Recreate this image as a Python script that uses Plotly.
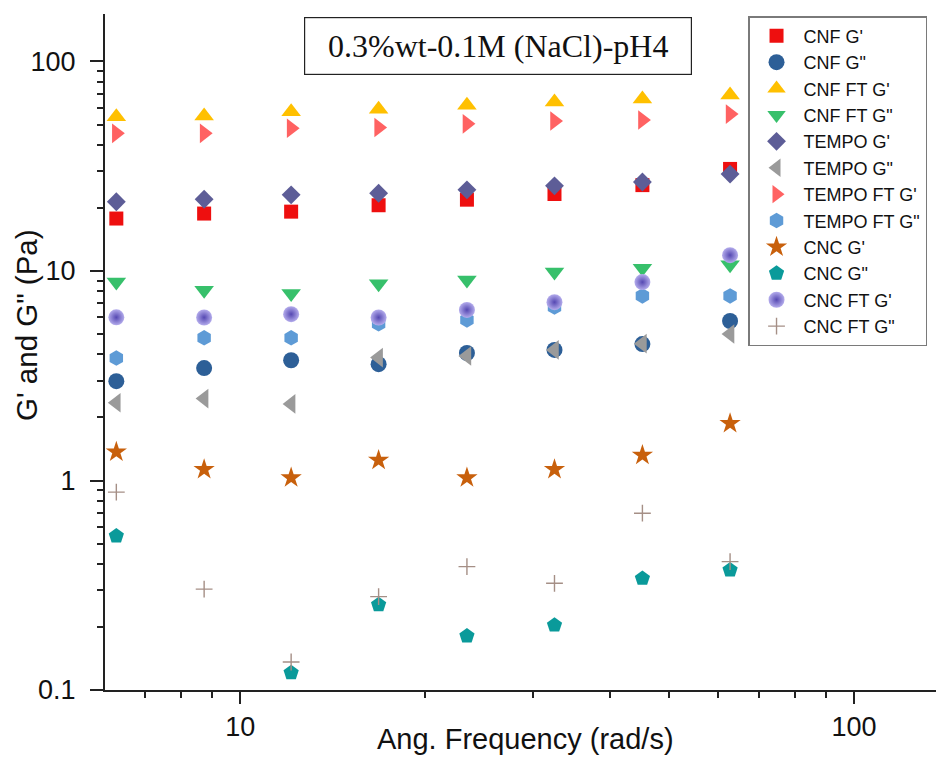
import plotly.graph_objects as go

# Angular frequency sweep (rad/s)
freq = [6.28, 8.73, 12.1, 16.8, 23.4, 32.5, 45.2, 62.8]

# Moduli (Pa) per sample
cnf_g1 = [17.8, 18.8, 19.2, 20.6, 21.9, 23.3, 25.7, 30.7]
cnf_g2 = [2.98, 3.44, 3.75, 3.59, 4.06, 4.2, 4.48, 5.77]
cnf_ft_g1 = [54.5, 54.9, 57.5, 59.1, 61.9, 64.1, 66.2, 69.2]
cnf_ft_g2 = [8.85, 8.1, 7.8, 8.7, 9.06, 9.9, 10.3, 10.7]
tempo_g1 = [21.4, 22.0, 23.1, 23.5, 24.4, 25.5, 26.6, 29.0]
tempo_g2 = [2.35, 2.46, 2.32, 3.86, 3.93, 4.2, 4.5, 5.0]
tempo_ft_g1 = [45.4, 45.4, 48.0, 48.4, 50.4, 52.0, 52.6, 56.1]
tempo_ft_g2 = [3.84, 4.8, 4.8, 5.6, 5.84, 6.73, 7.6, 7.6]
cnc_g1 = [1.37, 1.13, 1.03, 1.25, 1.03, 1.13, 1.32, 1.87]
cnc_g2 = [0.543, None, 0.121, 0.255, 0.181, 0.204, 0.341, 0.374]
cnc_ft_g1 = [6.01, 6.0, 6.22, 6.0, 6.52, 7.1, 8.85, 11.9]
cnc_ft_g2 = [0.88, 0.303, 0.136, 0.279, 0.388, 0.323, 0.698, 0.41]

series = [
    ("CNF G'", cnf_g1, "square", "#ee0f0f", 14),
    ('CNF G"', cnf_g2, "circle", "#2d5f97", 16),
    ("CNF FT G'", cnf_ft_g1, "triangle-up", "#ffc000", 17),
    ('CNF FT G"', cnf_ft_g2, "triangle-down", "#37c06b", 17),
    ("TEMPO G'", tempo_g1, "diamond", "#5d5d97", 14.5),
    ('TEMPO G"', tempo_g2, "triangle-left", "#9a9a9a", 17),
    ("TEMPO FT G'", tempo_ft_g1, "triangle-right", "#ff6262", 17),
    ('TEMPO FT G"', tempo_ft_g2, "hexagon", "#5e9bd6", 15.5),
    ("CNC G'", cnc_g1, "star", "#c8600c", 16),
    ('CNC G"', cnc_g2, "pentagon", "#0a9a9a", 16),
]

fig = go.Figure()
for name, vals, sym, col, size in series:
    fig.add_trace(go.Scatter(
        x=freq, y=vals, mode="markers", name=name,
        marker=dict(symbol=sym, color=col, size=size, line=dict(width=0)),
    ))

# shaded sphere markers
fig.add_trace(go.Scatter(
    x=freq, y=cnc_ft_g1, mode="markers", name="CNC FT G'",
    marker=dict(symbol="circle", color="#b4acec", size=16,
                gradient=dict(type="radial", color="#5548b2"),
                line=dict(width=0)),
))
fig.add_trace(go.Scatter(
    x=freq, y=cnc_ft_g2, mode="markers", name='CNC FT G"',
    marker=dict(symbol="cross-thin", size=12,
                line=dict(width=1.4, color="#a58f86")),
))

x_minor = [7, 8, 9, 20, 30, 40, 50, 60, 70, 80, 90]
y_minor = [0.2, 0.3, 0.4, 0.5, 0.6, 0.7, 0.8, 0.9,
           2, 3, 4, 5, 6, 7, 8, 9, 20, 30, 40, 50, 60, 70, 80, 90]

axis_font = dict(family="Liberation Sans, Arial, sans-serif", size=27, color="#111111")

fig.update_xaxes(
    type="log", range=[0.7795, 2.1335],
    showline=True, linecolor="#222222", linewidth=2,
    showgrid=False, zeroline=False,
    tickmode="array", tickvals=[10, 100], ticktext=["10", "100"],
    ticks="outside", ticklen=12, tickwidth=2, tickcolor="#222222",
    tickfont=axis_font,
    minor=dict(tickmode="array", tickvals=x_minor, ticks="outside",
               ticklen=6, tickwidth=2, tickcolor="#222222", showgrid=False),
)
fig.update_yaxes(
    type="log", range=[-1, 2.2267],
    showline=True, linecolor="#222222", linewidth=2,
    showgrid=False, zeroline=False,
    tickmode="array", tickvals=[0.1, 1, 10, 100], ticktext=["0.1", "1", "10", "100"],
    ticks="outside", ticklen=13, tickwidth=2, tickcolor="#222222",
    tickfont=axis_font, ticklabelstandoff=9,
    minor=dict(tickmode="array", tickvals=y_minor, ticks="outside",
               ticklen=6, tickwidth=2, tickcolor="#222222", showgrid=False),
)

fig.add_annotation(
    text="0.3%wt-0.1M (NaCl)-pH4", xref="paper", yref="paper",
    x=0.4729, y=0.9527, xanchor="center", yanchor="middle", showarrow=False,
    font=dict(family="Liberation Serif, Times New Roman, serif", size=32, color="#111111"),
    width=380, height=50, borderpad=3, borderwidth=1.2, bordercolor="#222222",
    bgcolor="white",
)
fig.add_annotation(
    text="Ang. Frequency (rad/s)", xref="paper", yref="paper",
    x=0.5066, y=-0.0725, xanchor="center", yanchor="middle", showarrow=False,
    font=dict(family="Liberation Sans, Arial, sans-serif", size=29, color="#111111"),
)
fig.add_annotation(
    text='G\' and G" (Pa)', xref="paper", yref="paper",
    x=-0.0939, y=0.54, xanchor="center", yanchor="middle", showarrow=False,
    textangle=-90,
    font=dict(family="Liberation Sans, Arial, sans-serif", size=29.5, color="#111111"),
)

fig.update_layout(
    width=936, height=759,
    margin=dict(l=105, r=0, t=14, b=69, autoexpand=False),
    paper_bgcolor="white", plot_bgcolor="white",
    showlegend=True,
    legend=dict(
        x=0.7738, y=0.997, xanchor="left", yanchor="top",
        bgcolor="white", bordercolor="#7a7a7a", borderwidth=1.5,
        font=dict(family="Liberation Sans, Arial, sans-serif", size=18, color="#111111"),
        tracegroupgap=0, itemwidth=44,
        entrywidth=200, entrywidthmode="pixels",
    ),
)

fig.write_html("out.html")
